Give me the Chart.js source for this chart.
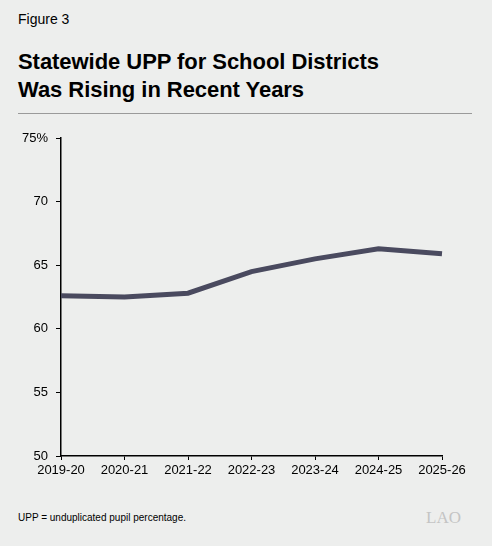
<!DOCTYPE html><html><head><meta charset="utf-8">
<script src="https://cdn.jsdelivr.net/npm/chart.js@4"></script>
<style>
html,body{margin:0;padding:0;background:#edeeed;font-family:"Liberation Sans",Arial,sans-serif;}
#wrap{position:relative;width:492px;height:546px;overflow:hidden;}
canvas{position:absolute;left:0;top:0;}
.t{position:absolute;color:#000;}
</style></head><body><div id="wrap">
<div class="t" style="left:18px;top:11px;font-size:14px;">Figure 3</div>
<div class="t" style="left:18px;top:48px;font-size:22px;font-weight:bold;line-height:28px;letter-spacing:-0.05px;">Statewide UPP for School Districts<br>Was Rising in Recent Years</div>
<div style="position:absolute;left:18px;top:113px;width:454px;height:1px;background:#9a9a9a;"></div>
<div class="t" style="left:18px;top:512px;font-size:10px;">UPP = unduplicated pupil percentage.</div>
<div class="t" style="left:426px;top:508px;font-size:17px;color:#c4c4c4;font-family:'Liberation Serif',serif;">LAO</div>
<canvas id="c" width="492" height="546"></canvas>
</div>
<script>
const categories=["2019-20","2020-21","2021-22","2022-23","2023-24","2024-25","2025-26"];
const upp=[62.6,62.5,62.8,64.5,65.5,66.3,65.9];
const yTicks=[50,55,60,65,70,75];
new Chart(document.getElementById('c'),{type:'line',
data:{labels:categories,datasets:[{data:upp,borderColor:'#4a4a5f',borderWidth:5,pointRadius:0,tension:0}]},
options:{responsive:false,animation:false,devicePixelRatio:1,
layout:{padding:{top:138,bottom:55,left:0,right:50}},
plugins:{legend:{display:false},tooltip:{enabled:false}},
scales:{
x:{offset:false,grid:{display:true,drawOnChartArea:false,color:'#000',tickLength:4},border:{color:'#000',width:1.5},
 ticks:{color:'#000',font:{size:13,family:'Liberation Sans'},maxRotation:0,autoSkip:false,padding:3},
 afterFit:s=>{s.height=35;}},
y:{min:50,max:75,afterBuildTicks:s=>{s.ticks=yTicks.map(v=>({value:v}));},
 grid:{display:true,drawOnChartArea:false,color:'#000',tickLength:5},border:{color:'#000',width:1.5},
 ticks:{color:'#000',font:{size:13,family:'Liberation Sans'},padding:8,callback:v=>v===75?'75%':v},
 afterFit:s=>{s.width=61;}}
}}});
</script></body></html>
